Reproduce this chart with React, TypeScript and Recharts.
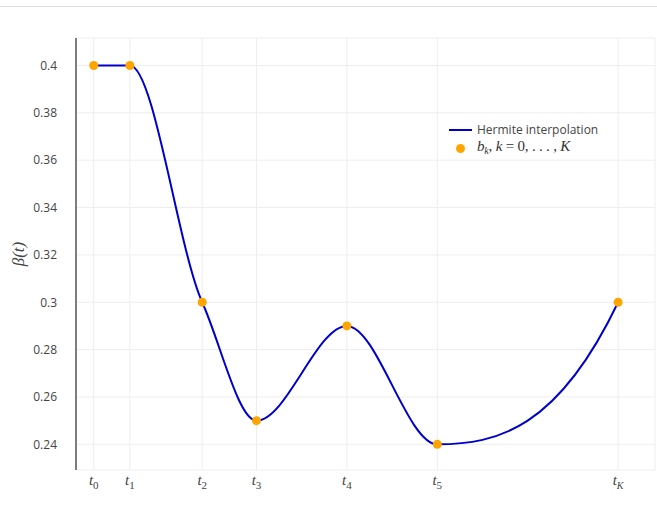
import { ComposedChart, Line, Scatter, XAxis, YAxis, CartesianGrid, Legend } from 'recharts';

// knot times, values b_k and the derivative prescribed at each knot
const knotTimes = [0, 2, 6, 9, 14, 19, 29];
const knotValues = [0.4, 0.4, 0.3, 0.25, 0.29, 0.24, 0.3];
const knotSlopes = [0, 0, -0.017, 0, 0, 0, 0.016];
const knotLabels = ['0', '1', '2', '3', '4', '5', 'K'];
const yTicks = [0.24, 0.26, 0.28, 0.3, 0.32, 0.34, 0.36, 0.38, 0.4];

const data = knotTimes.map((t, i) => ({ t, b: knotValues[i] }));

const mathFont = '"Liberation Serif", "DejaVu Serif", serif';
const tickFont = '"Open Sans", "Noto Sans", sans-serif';

// cubic Hermite curve through the knots, using the slopes above (d3 curve factory)
const hermiteCurve = (ctx: any) => {
  let pts: number[][] = [];
  return {
    areaStart() {},
    areaEnd() {},
    lineStart() {
      pts = [];
    },
    point(x: number, y: number) {
      pts.push([+x, +y]);
    },
    lineEnd() {
      const n = pts.length;
      if (!n) return;
      const sx = (pts[n - 1][0] - pts[0][0]) / (knotTimes[n - 1] - knotTimes[0]);
      const sy = (pts[2][1] - pts[0][1]) / (knotValues[2] - knotValues[0]);
      const k = sy / sx;
      ctx.moveTo(pts[0][0], pts[0][1]);
      for (let i = 0; i < n - 1; i++) {
        const [x0, y0] = pts[i];
        const [x1, y1] = pts[i + 1];
        const h = (x1 - x0) / 3;
        ctx.bezierCurveTo(x0 + h, y0 + knotSlopes[i] * k * h, x1 - h, y1 - knotSlopes[i + 1] * k * h, x1, y1);
      }
    },
  };
};

const XTick = ({ x, y, payload }: any) => {
  const i = knotTimes.indexOf(payload.value);
  return (
    <text x={x} y={y + 7} textAnchor="middle" fill="#444" fontFamily={mathFont}>
      <tspan fontStyle="italic" fontSize={15}>t</tspan>
      <tspan fontSize={i === 6 ? 10 : 11} fontStyle={i === 6 ? 'italic' : 'normal'} dy={4}>{knotLabels[i]}</tspan>
    </text>
  );
};

const LegendBox = () => (
  <div style={{ fontFamily: tickFont, fontSize: 12, color: '#444', lineHeight: '17px' }}>
    <div style={{ display: 'flex', alignItems: 'center' }}>
      <span style={{ display: 'inline-block', width: 23, height: 2, background: '#0000cd', marginRight: 5 }} />
      <span>Hermite interpolation</span>
    </div>
    <div style={{ display: 'flex', alignItems: 'center' }}>
      <span style={{ display: 'inline-block', width: 23, marginRight: 5, textAlign: 'center' }}>
        <span style={{ display: 'inline-block', width: 9, height: 9, borderRadius: '50%', background: '#ffa500' }} />
      </span>
      <span style={{ fontFamily: mathFont, fontSize: 15, color: '#333', letterSpacing: -0.2 }}>
        <i>b</i><sub style={{ fontSize: 10, verticalAlign: -3 }}><i>k</i></sub>, <i>k</i> = 0, . . . , <i>K</i>
      </span>
    </div>
  </div>
);

export default function App() {
  return (
    <div style={{ position: 'absolute', left: 0, top: 0, width: 657, height: 516, background: '#fff' }}>
      <div style={{ position: 'absolute', left: 0, top: 6, width: 657, borderTop: '1px solid #ddd' }} />
      <ComposedChart width={657} height={516} data={data} margin={{ top: 38, right: 2, bottom: 0, left: 0 }}>
        <CartesianGrid stroke="#eeeeee" strokeWidth={1} />
        <XAxis
          dataKey="t"
          type="number"
          domain={[-0.98, 31.04]}
          ticks={knotTimes}
          tick={<XTick />}
          axisLine={false}
          tickLine={false}
          height={46}
          allowDataOverflow
        />
        <YAxis
          type="number"
          domain={[0.22915, 0.41161]}
          ticks={yTicks}
          width={76}
          allowDataOverflow
          axisLine={{ stroke: '#555', strokeWidth: 1.5 }}
          tickLine={false}
          tickSize={0}
          tickMargin={19}
          tick={{ fill: '#444', fontSize: 12, fontFamily: tickFont }}
          tickFormatter={(v: number) => String(+v.toFixed(2))}
          label={{
            value: 'β(t)',
            angle: -90,
            position: 'insideLeft',
            offset: 18,
            style: { fontFamily: mathFont, fontStyle: 'italic', fontSize: 17, fill: '#444', textAnchor: 'middle' },
          }}
        />
        <Legend
          layout="horizontal"
          verticalAlign="middle"
          align="center"
          content={<LegendBox />}
          wrapperStyle={{ left: 449, top: 121, width: 200 }}
        />
        <Line
          dataKey="b"
          type={hermiteCurve as any}
          stroke="#0000cd"
          strokeWidth={2}
          dot={false}
          isAnimationActive={false}
          name="Hermite interpolation"
        />
        <Scatter
          dataKey="b"
          fill="#ffa500"
          isAnimationActive={false}
          shape={(p: any) => <circle cx={p.cx} cy={p.cy} r={4.5} fill="#ffa500" />}
        />
      </ComposedChart>
    </div>
  );
}
